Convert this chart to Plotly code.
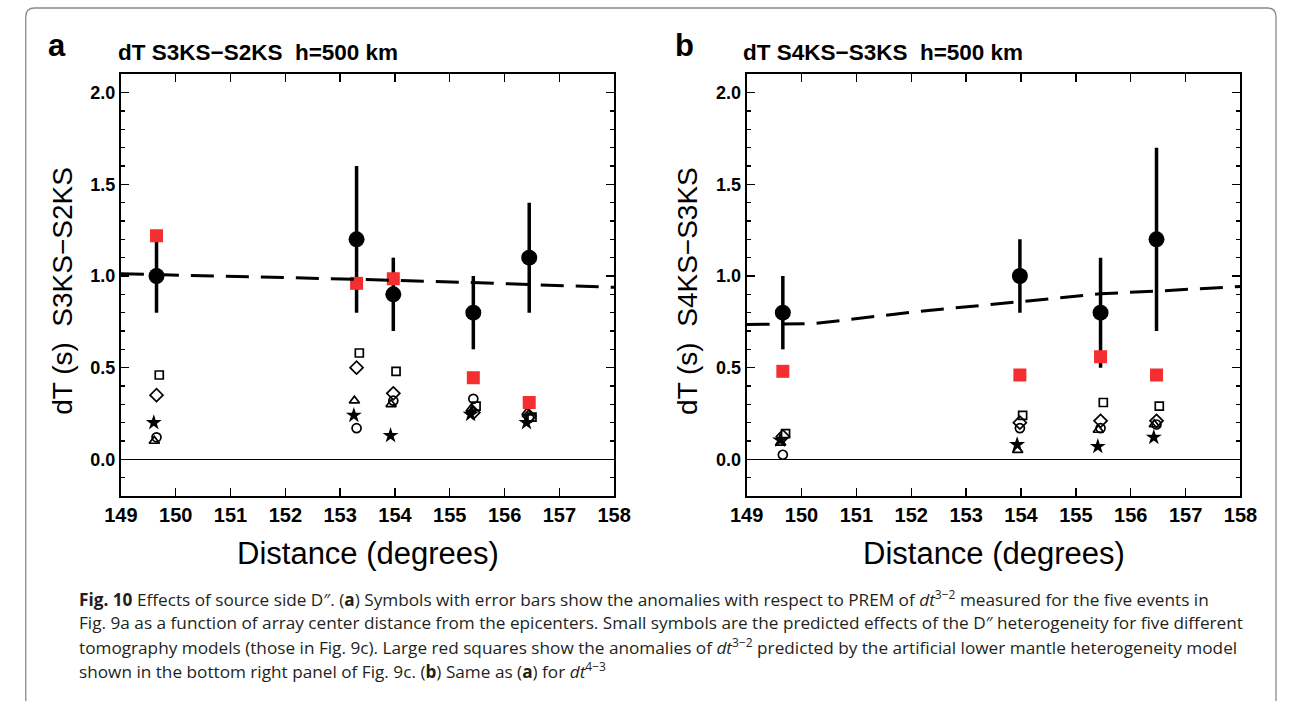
import plotly.graph_objects as go

W, H = 1294, 701

# ---------------- data ----------------
x_ticks = [149, 150, 151, 152, 153, 154, 155, 156, 157, 158]

# panel a : dT S3KS-S2KS
distance_a = [149.65, 153.30, 153.97, 155.43, 156.45]
obs_a = [1.0, 1.2, 0.9, 0.8, 1.1]
err_a = [0.2, 0.4, 0.2, 0.2, 0.3]
red_a = [1.22, 0.96, 0.985, 0.445, 0.31]
square_a = [0.46, 0.58, 0.48, 0.29, 0.23]
diamond_a = [0.35, 0.50, 0.36, 0.255, 0.235]
triangle_a = [0.10, 0.32, 0.30, 0.275, 0.255]
star_a = [0.20, 0.24, 0.13, 0.245, 0.20]
circle_a = [0.12, 0.17, 0.32, 0.33, 0.225]
trend_a_x = [149, 150, 152.4, 153.3, 155.4, 156.45, 158]
trend_a_y = [1.012, 1.005, 0.99, 0.982, 0.964, 0.955, 0.938]

# panel b : dT S4KS-S3KS
distance_b = [149.66, 153.98, 155.45, 156.47]
obs_b = [0.8, 1.0, 0.8, 1.2]
err_b = [0.2, 0.2, 0.3, 0.5]
red_b = [0.48, 0.46, 0.56, 0.46]
square_b = [0.14, 0.24, 0.31, 0.29]
diamond_b = [0.125, 0.20, 0.21, 0.21]
triangle_b = [0.09, 0.05, 0.16, 0.19]
star_b = [0.105, 0.08, 0.07, 0.12]
circle_b = [0.025, 0.17, 0.17, 0.19]
trend_b_x = [149, 149.7, 150.2, 150.8, 151.4, 152.1, 154.0, 155.45, 156.5, 158]
trend_b_y = [0.735, 0.737, 0.74, 0.76, 0.783, 0.806, 0.86, 0.903, 0.918, 0.943]

titles = ["dT S3KS\u2212S2KS\u00a0\u00a0h=500 km", "dT S4KS\u2212S3KS\u00a0\u00a0h=500 km"]
ytitles = ["dT (s)\u00a0\u00a0S3KS\u2212S2KS", "dT (s)\u00a0\u00a0S4KS\u2212S3KS"]
xtitle = "Distance (degrees)"
caption_lines = [
    "<b>Fig. 10</b> Effects of source side D\u2033. (<b>a</b>) Symbols with error bars show the anomalies with respect to PREM of <i>dt</i><sup>3\u22122</sup> measured for the five events in",
    "Fig. 9a as a function of array center distance from the epicenters. Small symbols are the predicted effects of the D\u2033 heterogeneity for five different",
    "tomography models (those in Fig. 9c). Large red squares show the anomalies of <i>dt</i><sup>3\u22122</sup> predicted by the artificial lower mantle heterogeneity model",
    "shown in the bottom right panel of Fig. 9c. (<b>b</b>) Same as (<b>a</b>) for <i>dt</i><sup>4\u22123</sup>",
]

# ---------------- figure ----------------
FONT = "Liberation Sans, Arial, Helvetica, sans-serif"
RED = "#f52f2f"


def px(x):
    return x / W


def py(y):
    return 1 - y / H


fig = go.Figure()

small_styles = [
    ("square", dict(symbol="square-open", size=8, color="black", line=dict(width=1.7, color="black")), 0.05),
    ("diamond", dict(symbol="diamond-open", size=10, color="black", line=dict(width=1.7, color="black")), 0.0),
    ("triangle", dict(symbol="triangle-up-open", size=9, color="black", line=dict(width=1.7, color="black")), -0.04),
    ("star", dict(symbol="star", size=12, color="black", line=dict(width=0)), -0.05),
    ("circle", dict(symbol="circle-open", size=9, color="black", line=dict(width=1.7, color="black")), 0.0),
]

panels = [
    dict(xa="x", ya="y", dist=distance_a, obs=obs_a, err=err_a, red=red_a,
         small=dict(square=square_a, diamond=diamond_a, triangle=triangle_a, star=star_a, circle=circle_a),
         tx=trend_a_x, ty=trend_a_y),
    dict(xa="x2", ya="y2", dist=distance_b, obs=obs_b, err=err_b, red=red_b,
         small=dict(square=square_b, diamond=diamond_b, triangle=triangle_b, star=star_b, circle=circle_b),
         tx=trend_b_x, ty=trend_b_y),
]

for p in panels:
    for name, mk, off in small_styles:
        fig.add_trace(go.Scatter(
            x=[d + off for d in p["dist"]], y=p["small"][name], mode="markers",
            marker=mk, xaxis=p["xa"], yaxis=p["ya"], showlegend=False, cliponaxis=False))
    fig.add_trace(go.Scatter(
        x=p["dist"], y=p["obs"], mode="markers",
        marker=dict(symbol="circle", size=16, color="black"),
        error_y=dict(type="data", array=p["err"], visible=True, thickness=3.5, width=0, color="black"),
        xaxis=p["xa"], yaxis=p["ya"], showlegend=False))
    fig.add_trace(go.Scatter(
        x=p["dist"], y=p["red"], mode="markers",
        marker=dict(symbol="square", size=13, color=RED),
        xaxis=p["xa"], yaxis=p["ya"], showlegend=False))
    fig.add_trace(go.Scatter(
        x=p["tx"], y=p["ty"], mode="lines",
        line=dict(color="black", width=3, dash="23px,12px"),
        xaxis=p["xa"], yaxis=p["ya"], showlegend=False))

ydom = [py(496), py(74.3)]
xdoms = [[px(106.7), px(613.3)], [px(749.3), px(1256.5)]]

axis_common_x = dict(
    range=[149, 158], tickvals=x_ticks, ticktext=[str(t) for t in x_ticks],
    showline=True, linecolor="black", linewidth=2, mirror="allticks",
    ticks="inside", ticklen=8, tickwidth=1.3, tickcolor="black",
    showgrid=False, zeroline=False,
    tickfont=dict(family=FONT, size=20, color="black", weight="bold"),
)
axis_common_y = dict(
    range=[-0.2, 2.1], tick0=0, dtick=0.5, tickformat=".1f",
    showline=True, linecolor="black", linewidth=2, mirror="allticks",
    ticks="inside", ticklen=8, tickwidth=1.3, tickcolor="black",
    minor=dict(dtick=0.1, tick0=0, ticks="inside", ticklen=4.5, tickwidth=1.3, tickcolor="black"),
    showgrid=False, zeroline=True, zerolinecolor="black", zerolinewidth=1.3,
    tickfont=dict(family=FONT, size=18, color="black", weight="bold"),
)

fig.update_layout(
    width=W, height=H, autosize=False,
    margin=dict(l=0, r=0, t=0, b=0),
    paper_bgcolor="white", plot_bgcolor="white",
    showlegend=False,
    xaxis=dict(domain=xdoms[0], anchor="y", **axis_common_x),
    yaxis=dict(domain=ydom, anchor="x", **axis_common_y),
    xaxis2=dict(domain=xdoms[1], anchor="y2", **axis_common_x),
    yaxis2=dict(domain=ydom, anchor="x2", **axis_common_y),
)

ann = []
# panel letters and titles
for i, (lx, tx, yx) in enumerate([(41, 102, 46), (685, 744, 688)]):
    ann.append(dict(text="<b>" + "ab"[i] + "</b>", x=px(lx), y=py(46), xref="paper", yref="paper",
                    showarrow=False, xanchor="center", yanchor="middle",
                    font=dict(family=FONT, size=31, color="black")))
    ann.append(dict(text="<b>" + titles[i] + "</b>", x=px(tx), y=py(52), xref="paper", yref="paper",
                    showarrow=False, xanchor="left", yanchor="middle",
                    font=dict(family=FONT, size=22.5, color="black")))
    ann.append(dict(text=ytitles[i], x=px(yx), y=py(291), xref="paper", yref="paper",
                    showarrow=False, xanchor="center", yanchor="middle", textangle=-90,
                    font=dict(family=FONT, size=28, color="black")))
    cx = (xdoms[i][0] + xdoms[i][1]) / 2
    ann.append(dict(text=xtitle, x=cx, y=py(553), xref="paper", yref="paper",
                    showarrow=False, xanchor="center", yanchor="middle",
                    font=dict(family=FONT, size=31, color="black")))

cap_y = [598, 622, 646, 670]
for line, yy in zip(caption_lines, cap_y):
    ann.append(dict(text=line, x=px(62), y=py(yy), xref="paper", yref="paper",
                    showarrow=False, xanchor="left", yanchor="middle",
                    font=dict(family="Open Sans, sans-serif", size=17.2, color="#231f20")))
fig.update_layout(annotations=ann)

# rounded frame around the figure
x0, y0, x1, y1, r = 9, 8, 1293, 730, 9
path = (f"M {px(x0 + r)},{py(y0)} L {px(x1 - r)},{py(y0)} Q {px(x1)},{py(y0)} {px(x1)},{py(y0 + r)} "
        f"L {px(x1)},{py(y1)} M {px(x0)},{py(y1)} L {px(x0)},{py(y0 + r)} Q {px(x0)},{py(y0)} {px(x0 + r)},{py(y0)}")
fig.add_shape(type="path", path=path, xref="paper", yref="paper",
              line=dict(color="#8a8a8a", width=1.3), layer="above")

# remove the page's default body margin so the figure fills the window exactly
fig.write_html(
    "out.html",
    config={"displayModeBar": False, "staticPlot": True},
    post_script="document.body.style.margin='0px';document.documentElement.style.overflow='hidden';",
)
